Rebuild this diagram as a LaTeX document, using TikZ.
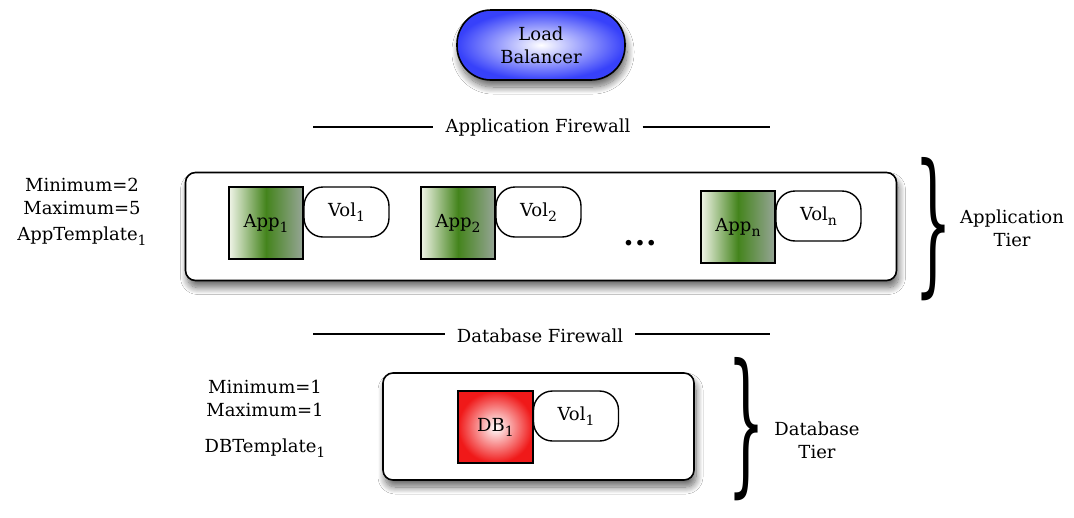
\documentclass[tikz,border=0pt]{standalone}
\usepackage{graphicx}
\usepackage{fontspec}
\setmainfont{DejaVu Serif}
\usetikzlibrary{shadows.blur}
\definecolor{lbblue}{RGB}{55,65,250}
\definecolor{appgreen}{RGB}{68,132,28}
\definecolor{appleft}{RGB}{240,244,232}
\definecolor{appright}{RGB}{150,165,150}
\definecolor{dbred}{RGB}{240,25,25}
\newcommand\subsc[1]{\raisebox{-5pt}{\fontsize{14}{14}\selectfont #1}}
\tikzset{
  txt/.style={font=\fontsize{18}{23}\selectfont, align=center, inner sep=0pt},
  shad/.style={blur shadow={shadow xshift=2pt, shadow yshift=-7pt, shadow blur radius=7pt, shadow blur steps=14, shadow opacity=60}},
  lbbox/.style={txt, draw, line width=1.6pt, rounded corners=34pt, minimum width=168pt, minimum height=70pt, inner color=white, outer color=lbblue, shading=radial, shad},
  tierbox/.style={draw, fill=white, line width=1.6pt, rounded corners=10pt, shad},
  appbox/.style={txt, draw, line width=1.4pt, minimum width=74pt, minimum height=72pt, left color=appleft, right color=appright, middle color=appgreen},
  dbbox/.style={txt, draw, line width=1.4pt, minimum width=75pt, minimum height=72pt, inner color=white, outer color=dbred, shading=radial},
  volbox/.style={txt, draw, fill=white, line width=1.4pt, rounded corners=19pt, minimum width=85pt, minimum height=50pt},
  fwline/.style={line width=1.4pt},
  fwlabel/.style={txt, inner xsep=12pt},
  bracetxt/.style={inner sep=0pt},
}
\begin{document}
\begin{tikzpicture}[x=1pt, y=-1pt]
\useasboundingbox (0,0) rectangle (1074,517);
\fill[white] (0,0) rectangle (1074,517);

% Load balancer
\node[lbbox] (lb) at (541,45) {Load\\Balancer};

% Application firewall
\node[fwlabel] (afw) at (538,128) {Application Firewall};
\coordinate (afwL) at (313,127);
\coordinate (afwR) at (770,127);
\draw[fwline] (afwL) -- (afw.west |- afwL);
\draw[fwline] (afw.east |- afwR) -- (afwR);

% Application tier
\node[tierbox, minimum width=711pt, minimum height=108pt] (atier) at (541,226.5) {};
\node[appbox] (app1) at (266,223) {App\subsc{1}};
\node[volbox] (vol1) at (346.5,212) {Vol\subsc{1}};
\node[appbox] (app2) at (458,223) {App\subsc{2}};
\node[volbox] (vol2) at (538.5,212) {Vol\subsc{2}};
\node[txt, font=\fontsize{30}{30}\bfseries] (dots) at (640,243) {.\hspace{1pt}.\hspace{1pt}.};
\node[appbox] (appn) at (738,227) {App\subsc{n}};
\node[volbox] (voln) at (818.5,216) {Vol\subsc{n}};

\node[txt] (aparams) at (82,212) {Minimum=2\\Maximum=5\\[3pt]AppTemplate\subsc{1}};
\node[bracetxt] (abrace) at (933,229) {\resizebox{38pt}{118pt}{\}}};
\node[txt] (atierlbl) at (1012,228) {Application\\Tier};

% Database firewall
\node[fwlabel] (dfw) at (540,336) {Database Firewall};
\coordinate (dfwL) at (313,334);
\coordinate (dfwR) at (770,334);
\draw[fwline] (dfwL) -- (dfw.west |- dfwL);
\draw[fwline] (dfw.east |- dfwR) -- (dfwR);

% Database tier
\node[tierbox, minimum width=311pt, minimum height=107pt] (dtier) at (538.5,426.5) {};
\node[dbbox] (db1) at (495.5,427) {DB\subsc{1}};
\node[volbox] (dvol1) at (576,416) {Vol\subsc{1}};

\node[txt] (dparams) at (265,419) {Minimum=1\\Maximum=1\\[13pt]DBTemplate\subsc{1}};
\node[bracetxt] (dbrace) at (747,429) {\resizebox{38pt}{118pt}{\}}};
\node[txt] (dtierlbl) at (817,440) {Database\\Tier};
\end{tikzpicture}
\end{document}
